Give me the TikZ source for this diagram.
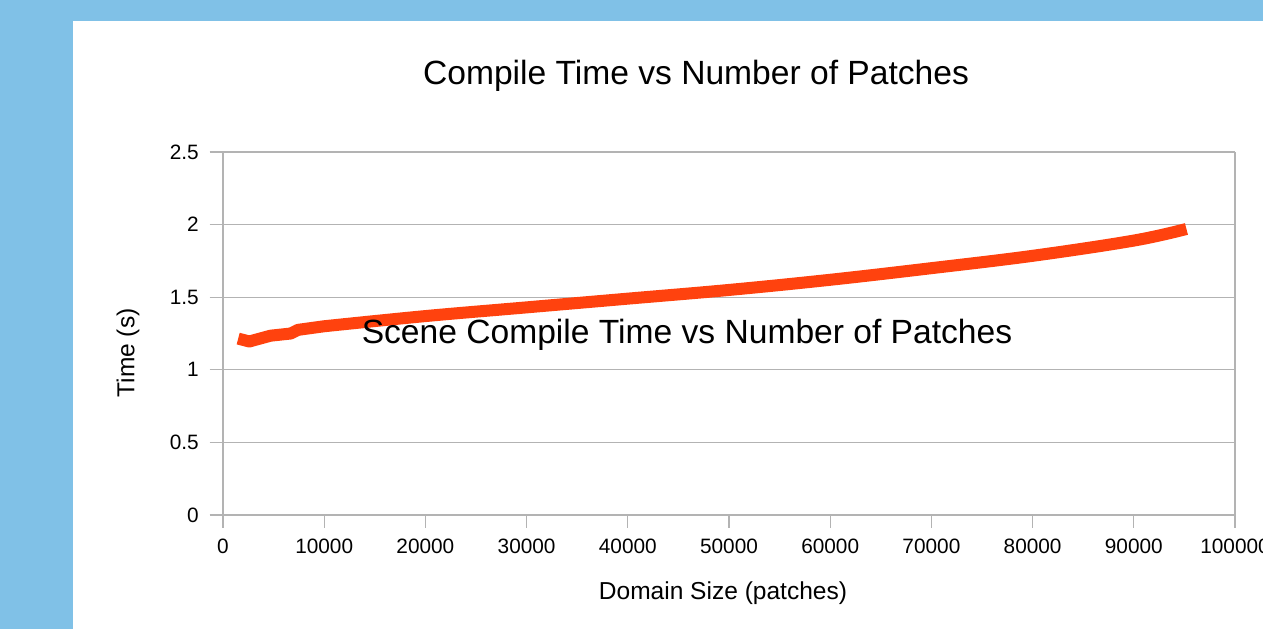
\documentclass[tikz,border=0pt]{standalone}
\usepackage{fontspec}
\setmainfont{Liberation Sans}
\definecolor{pagebg}{HTML}{80C1E7}
\definecolor{gridgray}{HTML}{B3B3B3}
\definecolor{series}{HTML}{FF420E}
\tikzset{
  gridline/.style={draw=gridgray, line width=1pt},
  ticklabel/.style={font=\fontsize{15.6}{18}\selectfont, inner sep=0pt},
  axistitle/.style={font=\fontsize{18.4}{22}\selectfont, inner sep=0pt},
  bigtitle/.style={font=\fontsize{25.2}{30}\selectfont, inner sep=0pt},
  curve/.style={draw=series, line width=9pt, line join=round}
}
\begin{document}
\begin{tikzpicture}[x=0.75pt, y=-0.75pt]
  % page background and white sheet
  \fill[pagebg] (0,0) rectangle (1263,629);
  \fill[white] (73,21) rectangle (1263,629);
  \useasboundingbox (0,0) rectangle (1263,629);

  % chart title
  \node[bigtitle, anchor=base] (title) at (696,84) {Compile Time vs Number of Patches};

  % plot area: x in thousands of patches, y in seconds
  \begin{scope}[shift={(223,515)}, x=7.59pt, y=108.9pt]
    \foreach \v in {0,0.5,1,1.5,2,2.5} {
      \draw[gridline] (0,\v) -- (100,\v);
      \draw[gridline] (-1.32,\v) -- (0,\v);
      \node[ticklabel, anchor=east] (yl\v) at (-2.37,\v) {\v};
    }
    \draw[gridline] (0,0) -- (0,2.5);
    \draw[gridline] (100,0) -- (100,2.5);
    \foreach \k/\lab in {0/0,10/10000,20/20000,30/30000,40/40000,50/50000,
                         60/60000,70/70000,80/80000,90/90000,100/100000} {
      \draw[gridline] (\k,0) -- (\k,-0.0918);
      \node[ticklabel] (xl\k) at (\k,-0.2135) {\lab};
    }

    % measured compile times
    \draw[curve] (1.5,1.215) -- (2.6,1.195) -- (4.7,1.235) -- (6.7,1.25) -- (7.4,1.275)
      -- plot[smooth, tension=0.6] coordinates {(10,1.30) (20,1.37) (30,1.43)
      (40,1.49) (50,1.55) (60,1.62) (70,1.70) (80,1.785) (90,1.89) (95.2,1.97)};
  \end{scope}

  % axis titles and the series label
  \node[axistitle, rotate=90] (ytitle) at (128,353) {Time (s)};
  \node[axistitle, anchor=base] (xtitle) at (723,599) {Domain Size (patches)};
  \node[bigtitle, anchor=base] (serieslabel) at (687,343) {Scene Compile Time vs Number of Patches};
\end{tikzpicture}
\end{document}
